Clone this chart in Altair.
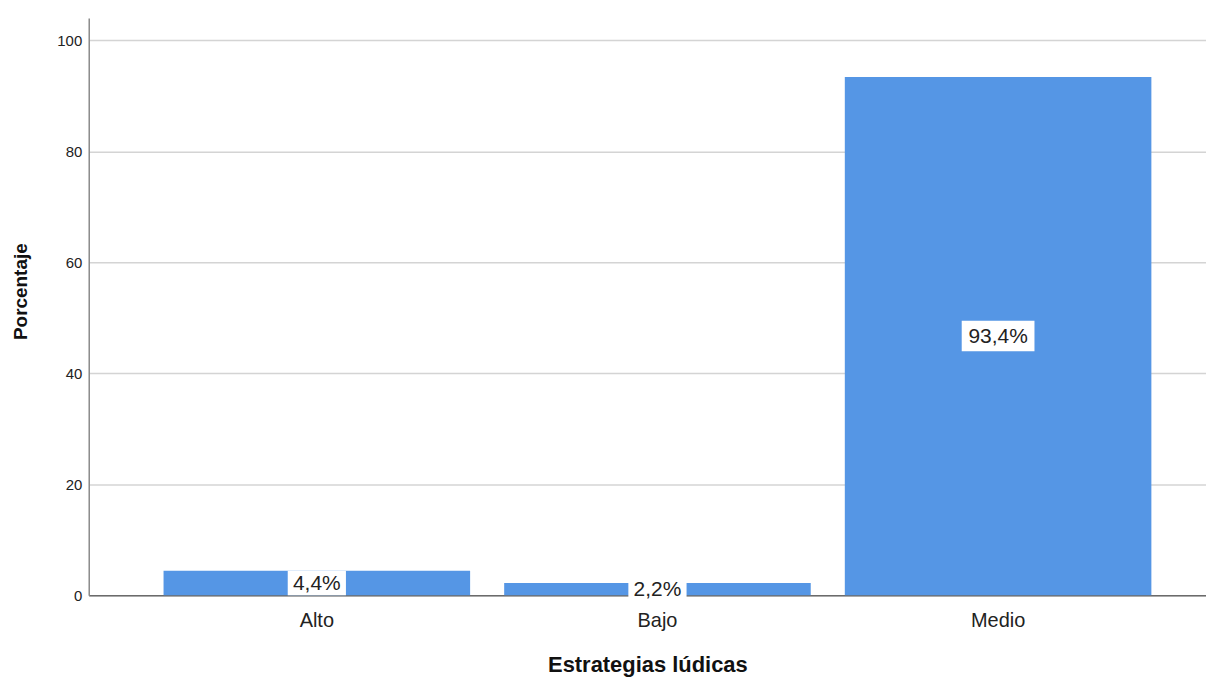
import altair as alt
import pandas as pd

categories = ["Alto", "Bajo", "Medio"]
percentages = [4.4, 2.2, 93.4]
labels = ["4,4%", "2,2%", "93,4%"]

df = pd.DataFrame({"cat": categories, "pct": percentages, "label": labels})

FONT = "Liberation Sans"

x_enc = alt.X(
    "cat:N",
    sort=categories,
    scale=alt.Scale(paddingInner=0.1, paddingOuter=0.19, align=0.578),
    axis=alt.Axis(
        title="Estrategias lúdicas",
        labelAngle=0,
        ticks=False,
        domainColor="#6b6b6b",
        domainWidth=1.5,
        labelFontSize=20,
        labelColor="#222222",
        labelPadding=15,
        titleFontSize=22,
        titleFontWeight="bold",
        titleColor="#111111",
        titlePadding=25,
        labelFont=FONT,
        titleFont=FONT,
    ),
)

base = alt.Chart(df)

bars = base.mark_bar(color="#5596e5").encode(
    x=x_enc,
    y=alt.Y(
        "pct:Q",
        scale=alt.Scale(domain=[0, 104], nice=False),
        axis=alt.Axis(
            title="Porcentaje",
            values=[0, 20, 40, 60, 80, 100],
            ticks=False,
            grid=True,
            gridColor="#d4d4d4",
            gridWidth=1.5,
            domainColor="#8a8a8a",
            domainWidth=1.5,
            labelFontSize=15,
            labelColor="#222222",
            labelPadding=7,
            titleFontSize=19,
            titleFontWeight="bold",
            titleColor="#111111",
            titlePadding=26,
            titleY=274,
            labelFont=FONT,
            titleFont=FONT,
        ),
    ),
)

mid = base.transform_calculate(
    mid="datum.pct / 2",
    boxsize="pow(length(datum.label) * 14.6, 2)",
)

boxes = mid.mark_point(
    shape="M-1,-0.42H1V0.42H-1Z",
    filled=True,
    color="white",
    opacity=1,
    strokeWidth=0,
).encode(
    x=alt.X("cat:N", sort=categories),
    y=alt.Y("mid:Q"),
    size=alt.Size("boxsize:Q", scale=None, legend=None),
)

texts = mid.mark_text(
    fontSize=21, font=FONT, color="#222222", baseline="middle", align="center", dy=1
).encode(
    x=alt.X("cat:N", sort=categories),
    y=alt.Y("mid:Q"),
    text="label:N",
)

chart = (
    alt.layer(bars, boxes, texts)
    .properties(
        width=1121,
        height=579,
        autosize=alt.AutoSizeParams(type="none"),
        padding={"left": 81, "top": 9, "right": 0, "bottom": 82},
    )
    .configure_view(stroke=None)
    .configure_axis(labelFont=FONT, titleFont=FONT)
)

chart.save("out.html", embed_options={"renderer": "svg", "actions": False})
